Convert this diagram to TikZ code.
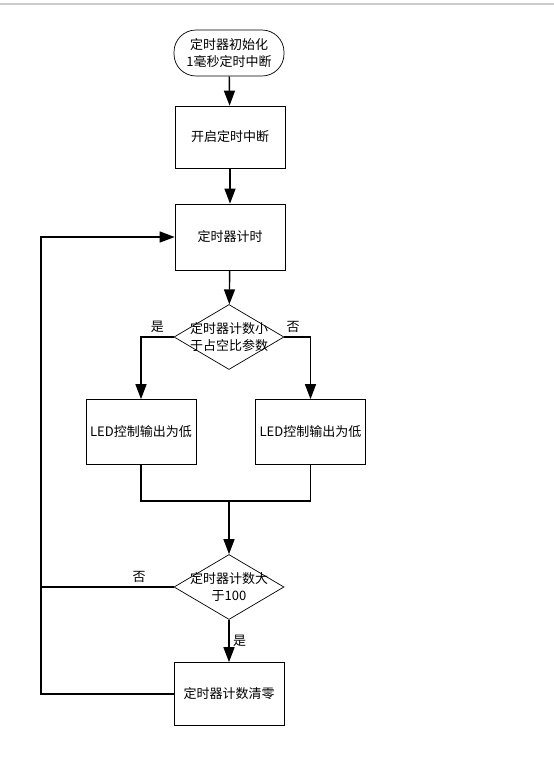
\documentclass[tikz,border=0pt]{standalone}
\usepackage{fontspec}
\setmainfont{Noto Sans CJK SC}
\usetikzlibrary{arrows.meta,shapes.geometric}

\tikzset{
  termbox/.style={draw,line width=0.7pt,rounded corners=22pt,minimum width=110pt,minimum height=46pt,inner sep=0pt,align=center},
  procbox/.style={draw,line width=0.7pt,minimum width=110pt,minimum height=64pt,inner sep=0pt},
  decision/.style={draw,diamond,line width=0.7pt,minimum width=110pt,minimum height=65pt,inner sep=0pt},
  flow/.style={line width=1.4pt,-{Triangle[width=11pt,length=15pt]}},
  wire/.style={line width=1.4pt},
}

\begin{document}
\begin{tikzpicture}[x=1pt,y=-1pt,font=\fontsize{13}{17}\selectfont]
  \useasboundingbox (0,0) rectangle (554,780);
  \draw[gray!40,line width=1.2pt] (0,4) -- (554,4);
  % Nodes
  \node[termbox] (start) at (229,53) {定时器初始化\\1毫秒定时中断};
  \node[procbox,minimum height=62pt] (init) at (230,137) {开启定时中断};
  \node[procbox,minimum height=66pt] (count) at (230,237) {定时器计时};
  \node[decision] (cmp1) at (229,337) {};
  \node[align=center] (cmp1txt) at (cmp1) {定时器计数小\\于占空比参数};
  \node[procbox,minimum height=65pt] (ledL) at (141,432) {LED控制输出为低};
  \node[procbox,minimum height=65pt] (ledR) at (310.5,432) {LED控制输出为低};
  \coordinate (join) at (229,501);
  \node[decision] (cmp2) at (229,587) {};
  \node[align=center] (cmp2txt) at (cmp2) {定时器计数大\\于100};
  \node[procbox,minimum height=63pt] (clr) at (229,694) {定时器计数清零};
  \coordinate (rail) at (41,694);
  % Connectors
  \draw[flow] (start) -- (init);
  \draw[flow] (init) -- (count);
  \draw[flow] (count) -- (cmp1);
  \draw[flow] (cmp1.west) -| node[pos=0.25,above] {是} (ledL.north);
  \draw[flow] (cmp1.east) -| node[pos=0.17,above] {否} (ledR.north);
  \draw[wire] (ledL.south) |- (join) -| (ledR.south);
  \draw[flow] (join) -- (cmp2);
  \draw[flow] (cmp2) -- node[right] {是} (clr);
  % Loop back
  \draw[wire] (cmp2.west) -- node[pos=0.26,above] {否} (cmp2.west -| rail);
  \draw[flow] (clr.west) -- (rail) |- (count.west);
\end{tikzpicture}
\end{document}
